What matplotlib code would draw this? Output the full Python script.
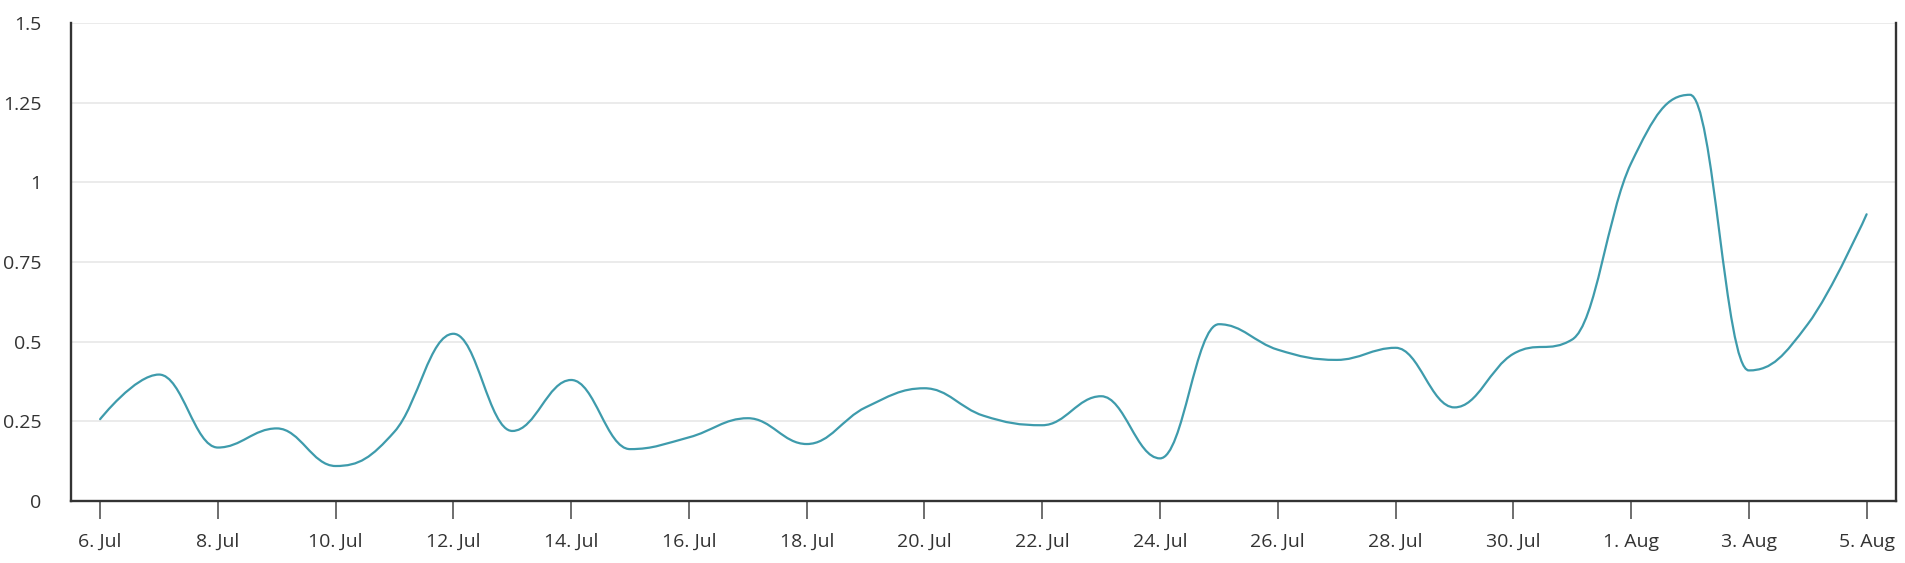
import matplotlib
matplotlib.use("Agg")
import matplotlib.pyplot as plt
from matplotlib.path import Path
from matplotlib.patches import PathPatch
import numpy as np

plt.rcParams['font.family'] = ['Open Sans', 'DejaVu Sans']

# ---- data ----
dates = ["6. Jul", "7. Jul", "8. Jul", "9. Jul", "10. Jul", "11. Jul", "12. Jul",
         "13. Jul", "14. Jul", "15. Jul", "16. Jul", "17. Jul", "18. Jul", "19. Jul",
         "20. Jul", "21. Jul", "22. Jul", "23. Jul", "24. Jul", "25. Jul", "26. Jul",
         "27. Jul", "28. Jul", "29. Jul", "30. Jul", "31. Jul", "1. Aug", "2. Aug",
         "3. Aug", "4. Aug", "5. Aug"]
values = [0.257, 0.397, 0.168, 0.228, 0.110, 0.218, 0.525,
          0.220, 0.380, 0.163, 0.200, 0.260, 0.179, 0.294,
          0.354, 0.268, 0.238, 0.329, 0.134, 0.555, 0.475,
          0.443, 0.481, 0.294, 0.462, 0.507, 1.060, 1.275,
          0.410, 0.555, 0.900]
y_ticks = [0, 0.25, 0.5, 0.75, 1, 1.25, 1.5]
y_tick_labels = ["0", "0.25", "0.5", "0.75", "1", "1.25", "1.5"]

LINE_COLOR = "#3e9bac"
AXIS_COLOR = "#333333"
TEXT_COLOR = "#333333"


def highcharts_spline(xs, ys, smoothing=1.5):
    denom = smoothing + 1
    n = len(xs)
    verts = [(xs[0], ys[0])]
    codes = [Path.MOVETO]
    right_ctrl = [None] * n
    for i in range(1, n):
        px, py = xs[i], ys[i]
        lcx, lcy = px, py
        if i < n - 1:
            lx, ly = xs[i - 1], ys[i - 1]
            nx, ny = xs[i + 1], ys[i + 1]
            lcx = (smoothing * px + lx) / denom
            lcy = (smoothing * py + ly) / denom
            rcx = (smoothing * px + nx) / denom
            rcy = (smoothing * py + ny) / denom
            corr = 0.0
            if rcx != lcx:
                corr = ((rcy - lcy) * (rcx - px)) / (rcx - lcx) + py - rcy
            lcy += corr
            rcy += corr
            if lcy > ly and lcy > py:
                lcy = max(ly, py)
                rcy = 2 * py - lcy
            elif lcy < ly and lcy < py:
                lcy = min(ly, py)
                rcy = 2 * py - lcy
            if rcy > ny and rcy > py:
                rcy = max(ny, py)
                lcy = 2 * py - rcy
            elif rcy < ny and rcy < py:
                rcy = min(ny, py)
                lcy = 2 * py - rcy
            right_ctrl[i] = (rcx, rcy)
        prev = right_ctrl[i - 1] if right_ctrl[i - 1] is not None else (xs[i - 1], ys[i - 1])
        verts += [prev, (lcx, lcy), (px, py)]
        codes += [Path.CURVE4] * 3
    return Path(verts, codes)


fig = plt.figure(figsize=(19.05, 5.63), dpi=100)
ax = fig.add_axes([0.0371, 0.110, 0.9582, 0.849])

x = np.arange(len(values))
path = highcharts_spline(list(x.astype(float)), list(values))
ax.add_patch(PathPatch(path, facecolor="none", edgecolor=LINE_COLOR, lw=1.6,
                       capstyle="round", joinstyle="round", zorder=3))

ax.set_xlim(-0.5, len(values) - 0.5)
ax.set_ylim(0, 1.5)

ax.set_yticks(y_ticks)
ax.set_yticklabels(y_tick_labels)
ax.set_xticks(x[::2])
ax.set_xticklabels(dates[::2])

ax.grid(axis="y", color="#e6e6e6", lw=1.1, zorder=0)
ax.set_axisbelow(True)

for side in ["left", "bottom", "right"]:
    ax.spines[side].set_color(AXIS_COLOR)
    ax.spines[side].set_linewidth(1.7)
ax.spines["top"].set_visible(False)

ax.tick_params(axis="y", length=0, pad=21, labelsize=14, labelcolor=TEXT_COLOR)
ax.tick_params(axis="x", length=13, width=1.2, color="#555555", pad=10,
               labelsize=14, labelcolor=TEXT_COLOR)

fig.savefig("out.png", dpi=100, facecolor="white")
